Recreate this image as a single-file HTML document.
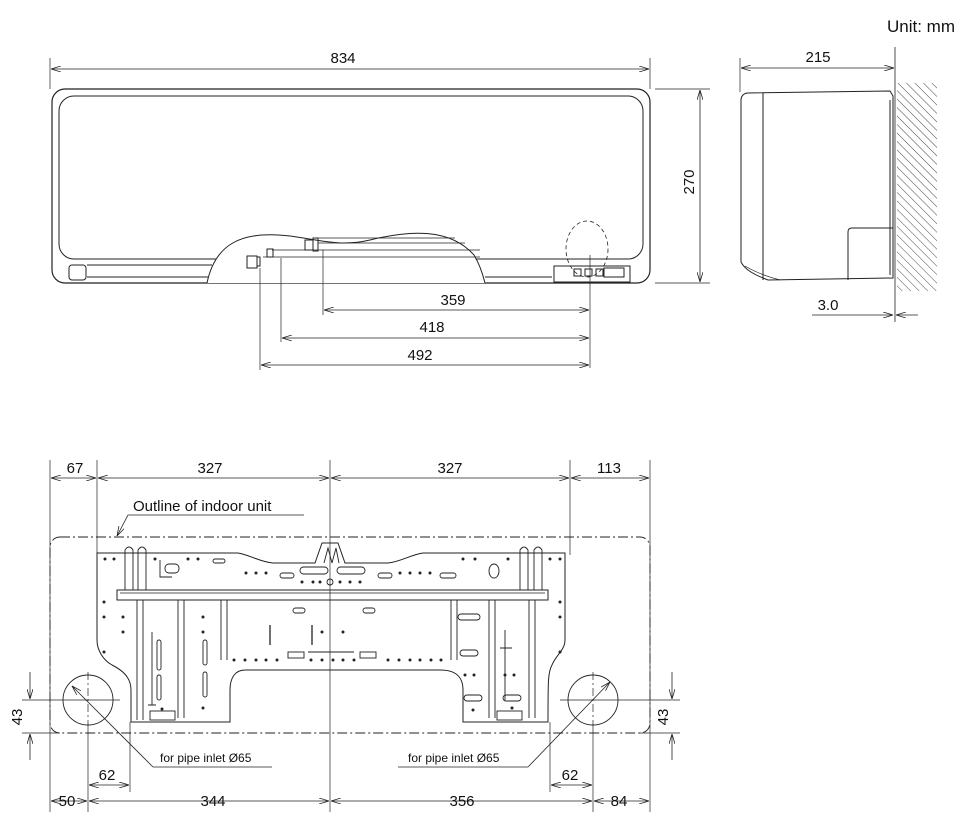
<!DOCTYPE html>
<html><head><meta charset="utf-8"><style>
html,body{margin:0;padding:0;background:#fff}
svg{display:block}
text{font-family:"Liberation Sans",sans-serif;fill:#111}
</style></head><body>
<svg width="962" height="830" viewBox="0 0 962 830" xmlns="http://www.w3.org/2000/svg">
<defs>
<marker id="a" markerWidth="10" markerHeight="6" refX="10" refY="3" orient="auto-start-reverse" markerUnits="userSpaceOnUse"><path d="M0,0 L10,3 L0,6" fill="none" stroke="#222" stroke-width="0.8"/></marker>
<pattern id="h" width="6" height="6" patternUnits="userSpaceOnUse" patternTransform="rotate(-45)"><line x1="0" y1="0" x2="0" y2="6" stroke="#333" stroke-width="0.9"/></pattern>
</defs>
<g stroke="#222" fill="none" stroke-width="1">
<text x="955" y="32" font-size="17" text-anchor="end" stroke="none">Unit: mm</text>

<!-- FRONT VIEW -->
<line x1="50" y1="58" x2="50" y2="89" stroke-width="0.7"/>
<line x1="650" y1="58" x2="650" y2="89" stroke-width="0.7"/>
<line x1="51" y1="69" x2="649" y2="69" marker-start="url(#a)" marker-end="url(#a)" stroke-width="0.8"/>
<text x="343" y="63" font-size="15" text-anchor="middle" stroke="none">834</text>
<rect x="52" y="89" width="598" height="194" rx="13" stroke-width="1.2"/>
<rect x="59" y="96" width="584" height="163" rx="15"/>
<rect x="69" y="265" width="17" height="15" rx="3"/>
<line x1="87" y1="265" x2="212" y2="265"/><line x1="87" y1="277" x2="212" y2="277"/>
<line x1="485" y1="277" x2="552" y2="277"/>
<path d="M207,283 C215,245 240,230 290,236 C320,240 340,247 370,240 C410,230 450,228 474,255 C480,265 483,275 485,283" fill="#fff"/>
<line x1="263" y1="257" x2="480" y2="257" stroke-width="0.8"/>
<line x1="272" y1="250" x2="480" y2="250" stroke-width="0.8"/>
<line x1="318" y1="243" x2="465" y2="243" stroke-width="0.8"/>
<line x1="318" y1="238" x2="455" y2="238" stroke-width="0.8"/>
<rect x="247" y="256" width="10" height="12"/><rect x="257" y="257" width="3" height="9"/>
<rect x="267" y="249" width="6" height="8"/>
<rect x="305" y="240" width="8" height="10"/><rect x="313" y="238" width="5" height="13"/>
<rect x="554" y="266" width="76" height="16"/>
<rect x="574" y="269" width="7" height="7"/><rect x="585" y="269" width="7" height="7"/><rect x="596" y="269" width="7" height="7"/><rect x="604" y="268" width="20" height="9"/>
<ellipse cx="587" cy="249" rx="21" ry="28" stroke-dasharray="4,3" stroke-width="0.8"/>
<line x1="655" y1="89" x2="710" y2="89" stroke-width="0.7"/>
<line x1="655" y1="283" x2="710" y2="283" stroke-width="0.7"/>
<line x1="700" y1="90" x2="700" y2="282" marker-start="url(#a)" marker-end="url(#a)" stroke-width="0.8"/>
<text x="0" y="0" font-size="15" text-anchor="middle" stroke="none" transform="translate(694,182) rotate(-90)">270</text>
<line x1="590" y1="255" x2="590" y2="368" stroke-width="0.7"/>
<line x1="323" y1="250" x2="323" y2="315" stroke-width="0.7"/>
<line x1="281" y1="258" x2="281" y2="342" stroke-width="0.7"/>
<line x1="260" y1="268" x2="260" y2="370" stroke-width="0.7"/>
<line x1="324" y1="310" x2="589" y2="310" marker-start="url(#a)" marker-end="url(#a)" stroke-width="0.8"/>
<line x1="282" y1="338" x2="589" y2="338" marker-start="url(#a)" marker-end="url(#a)" stroke-width="0.8"/>
<line x1="261" y1="365" x2="589" y2="365" marker-start="url(#a)" marker-end="url(#a)" stroke-width="0.8"/>
<text x="453" y="305" font-size="15" text-anchor="middle" stroke="none">359</text>
<text x="432" y="332" font-size="15" text-anchor="middle" stroke="none">418</text>
<text x="420" y="360" font-size="15" text-anchor="middle" stroke="none">492</text>

<!-- SIDE VIEW -->
<line x1="740" y1="58" x2="740" y2="92" stroke-width="0.7"/>
<line x1="895" y1="47" x2="895" y2="322" stroke-width="0.8"/>
<line x1="741" y1="68" x2="894" y2="68" marker-start="url(#a)" marker-end="url(#a)" stroke-width="0.8"/>
<text x="818" y="62" font-size="15" text-anchor="middle" stroke="none">215</text>
<path d="M748,93 L890,91 L893,96 L893,278 L768,280 C755,275 745,270 741,262 L741,100 C741,96 744,93 748,93Z"/>
<line x1="763" y1="93" x2="763" y2="280"/>
<path d="M848,280 L848,232 Q848,228 852,228 L893,228"/>
<line x1="890" y1="100" x2="890" y2="275"/>
<path d="M745,266 C755,272 765,276 780,280" stroke-width="0.7"/>
<rect x="897" y="83" width="40" height="208" fill="url(#h)" stroke="none"/>
<line x1="812" y1="315" x2="893" y2="315" marker-end="url(#a)" stroke-width="0.8"/>
<line x1="918" y1="315" x2="896" y2="315" marker-end="url(#a)" stroke-width="0.8"/>
<text x="828" y="310" font-size="15" text-anchor="middle" stroke="none">3.0</text>

<!-- BOTTOM VIEW -->
<g stroke-width="0.7">
<line x1="50" y1="460" x2="50" y2="812"/>
<line x1="97" y1="460" x2="97" y2="555"/>
<line x1="330" y1="460" x2="330" y2="812"/>
<line x1="570" y1="460" x2="570" y2="555"/>
<line x1="650" y1="460" x2="650" y2="812"/>
</g>
<g stroke-width="0.8">
<line x1="51" y1="478" x2="96" y2="478" marker-start="url(#a)" marker-end="url(#a)"/>
<line x1="98" y1="478" x2="329" y2="478" marker-start="url(#a)" marker-end="url(#a)"/>
<line x1="331" y1="478" x2="569" y2="478" marker-start="url(#a)" marker-end="url(#a)"/>
<line x1="571" y1="478" x2="649" y2="478" marker-start="url(#a)" marker-end="url(#a)"/>
</g>
<text x="75" y="473" font-size="15" text-anchor="middle" stroke="none">67</text>
<text x="210" y="473" font-size="15" text-anchor="middle" stroke="none">327</text>
<text x="450" y="473" font-size="15" text-anchor="middle" stroke="none">327</text>
<text x="609" y="473" font-size="15" text-anchor="middle" stroke="none">113</text>
<text x="133" y="511" font-size="15" stroke="none">Outline of indoor unit</text>
<line x1="128" y1="515" x2="304" y2="515" stroke-width="0.8"/>
<line x1="128" y1="515" x2="117" y2="536" stroke-width="0.8" marker-end="url(#a)"/>
<rect x="50" y="537" width="600" height="196" rx="10" stroke-dasharray="10,3,2,3" stroke-width="0.9"/>

<!-- plate -->
<path d="M97,553 L238,553 C250,555 260,562 273,563 L315,563 L322,543 L338,543 L345,563 L388,563 C400,562 410,555 423,553 L565,553 L565,640 C565,650 556,655 552,665 C548,672 548,680 548,722 L463,722 L463,690 C463,676 455,670 440,670 L245,670 C235,670 230,678 230,690 L230,722 L131,722 L131,690 C131,677 122,670 112,665 C103,660 97,650 97,640 Z" stroke-width="1"/>
<rect x="117" y="590" width="431" height="10"/>
<line x1="120" y1="593" x2="545" y2="593" stroke-width="0.7"/>
<g stroke-width="0.9">
<path d="M125,590 L125,550 Q129,544 133,550 L133,590"/><path d="M138,590 L138,550 Q142,544 146,550 L146,590"/>
<path d="M520,590 L520,550 Q524,544 528,550 L528,590"/><path d="M534,590 L534,550 Q538,544 542,550 L542,590"/>
<path d="M324,563 L328,548 L332,563 M332,563 L336,548 L339,563"/>
<rect x="300" y="567" width="28" height="7" rx="3.5"/><rect x="337" y="567" width="28" height="7" rx="3.5"/>
<circle cx="330" cy="582" r="3"/>
<path d="M137,600 L137,720 M143,600 L143,720 M178,600 L178,718 M184,600 L184,718 M221,600 L221,660 M227,600 L227,660"/>
<path d="M451,600 L451,660 M457,600 L457,660 M489,600 L489,718 M495,600 L495,718 M529,600 L529,718 M535,600 L535,718"/>
<path d="M152,632 L152,705 M156,705 L148,705"/>
<rect x="157" y="640" width="4" height="30" rx="2"/><rect x="157" y="675" width="4" height="25" rx="2"/>
<rect x="203" y="640" width="4" height="25" rx="2"/><rect x="203" y="672" width="4" height="25" rx="2"/>
<rect x="150" y="711" width="25" height="9"/><rect x="497" y="711" width="25" height="9"/>
<rect x="458" y="614" width="22" height="6" rx="3"/><rect x="460" y="650" width="18" height="6" rx="3"/><rect x="464" y="695" width="18" height="6" rx="3"/><rect x="503" y="695" width="18" height="6" rx="3"/>
<rect x="293" y="608" width="12" height="5" rx="2.5"/><rect x="363" y="608" width="12" height="5" rx="2.5"/>
<rect x="213" y="559" width="12" height="4" rx="2"/><rect x="280" y="573" width="14" height="5" rx="2.5"/>
<rect x="378" y="573" width="14" height="5" rx="2.5"/><rect x="440" y="573" width="16" height="5" rx="2.5"/>
<ellipse cx="494" cy="571" rx="5" ry="7"/>
<rect x="165" y="564" width="14" height="9" rx="4"/>
<path d="M160,560 L160,577 L172,577"/>
<line x1="270" y1="625" x2="270" y2="645" stroke-width="1.3"/><line x1="312" y1="625" x2="312" y2="645" stroke-width="1.3"/>
<rect x="288" y="652" width="16" height="6"/><rect x="360" y="652" width="16" height="6"/>
<line x1="308" y1="652" x2="354" y2="652"/>
<path d="M505,630 L505,700 M500,648 L512,648"/>
</g>
<g fill="#222" stroke="none">
<circle cx="105" cy="559" r="1.5"/><circle cx="114" cy="559" r="1.5"/><circle cx="155" cy="559" r="1.5"/><circle cx="188" cy="559" r="1.5"/><circle cx="198" cy="559" r="1.5"/>
<circle cx="246" cy="573" r="1.5"/><circle cx="256" cy="573" r="1.5"/><circle cx="266" cy="573" r="1.5"/>
<circle cx="302" cy="582" r="1.5"/><circle cx="313" cy="582" r="1.5"/><circle cx="320" cy="582" r="1.5"/><circle cx="340" cy="582" r="1.5"/><circle cx="350" cy="582" r="1.5"/><circle cx="360" cy="582" r="1.5"/>
<circle cx="400" cy="573" r="1.5"/><circle cx="410" cy="573" r="1.5"/><circle cx="420" cy="573" r="1.5"/><circle cx="430" cy="573" r="1.5"/>
<circle cx="463" cy="559" r="1.5"/><circle cx="475" cy="559" r="1.5"/><circle cx="508" cy="559" r="1.5"/><circle cx="550" cy="559" r="1.5"/><circle cx="560" cy="559" r="1.5"/>
<circle cx="104" cy="602" r="1.5"/><circle cx="104" cy="617" r="1.5"/><circle cx="123" cy="617" r="1.5"/><circle cx="123" cy="632" r="1.5"/><circle cx="104" cy="652" r="1.5"/>
<circle cx="560" cy="602" r="1.5"/><circle cx="560" cy="617" r="1.5"/><circle cx="560" cy="652" r="1.5"/>
<circle cx="203" cy="617" r="1.5"/><circle cx="203" cy="632" r="1.5"/><circle cx="322" cy="632" r="1.5"/><circle cx="343" cy="632" r="1.5"/>
<circle cx="234" cy="660" r="1.5"/><circle cx="245" cy="660" r="1.5"/><circle cx="256" cy="660" r="1.5"/><circle cx="266" cy="660" r="1.5"/><circle cx="277" cy="660" r="1.5"/>
<circle cx="311" cy="660" r="1.5"/><circle cx="322" cy="660" r="1.5"/><circle cx="333" cy="660" r="1.5"/><circle cx="343" cy="660" r="1.5"/><circle cx="354" cy="660" r="1.5"/>
<circle cx="388" cy="660" r="1.5"/><circle cx="399" cy="660" r="1.5"/><circle cx="410" cy="660" r="1.5"/><circle cx="420" cy="660" r="1.5"/><circle cx="431" cy="660" r="1.5"/><circle cx="441" cy="660" r="1.5"/>
<circle cx="465" cy="675" r="1.5"/><circle cx="474" cy="675" r="1.5"/><circle cx="505" cy="675" r="1.5"/><circle cx="514" cy="675" r="1.5"/>
<circle cx="162" cy="709" r="1.5"/><circle cx="203" cy="708" r="1.5"/><circle cx="473" cy="710" r="1.5"/><circle cx="512" cy="708" r="1.5"/>
</g>

<!-- circles -->
<circle cx="88" cy="700" r="25" stroke-width="0.9"/>
<circle cx="593" cy="700" r="25" stroke-width="0.9"/>
<g stroke-width="0.7" stroke-dasharray="8,3,2,3">
<line x1="88" y1="672" x2="88" y2="730"/><line x1="593" y1="672" x2="593" y2="730"/>
</g>
<g stroke-width="0.7">
<line x1="22" y1="700" x2="120" y2="700"/><line x1="22" y1="733" x2="60" y2="733"/>
<line x1="560" y1="700" x2="680" y2="700"/><line x1="640" y1="733" x2="680" y2="733"/>
<line x1="88" y1="728" x2="88" y2="812"/><line x1="593" y1="728" x2="593" y2="812"/>
<line x1="130" y1="722" x2="130" y2="792"/><line x1="550" y1="722" x2="550" y2="792"/>
</g>
<line x1="30" y1="672" x2="30" y2="699" marker-end="url(#a)" stroke-width="0.8"/>
<line x1="30" y1="760" x2="30" y2="734" marker-end="url(#a)" stroke-width="0.8"/>
<line x1="672" y1="672" x2="672" y2="699" marker-end="url(#a)" stroke-width="0.8"/>
<line x1="672" y1="760" x2="672" y2="734" marker-end="url(#a)" stroke-width="0.8"/>
<text font-size="15" text-anchor="middle" stroke="none" transform="translate(22,717) rotate(-90)">43</text>
<text font-size="15" text-anchor="middle" stroke="none" transform="translate(668,717) rotate(-90)">43</text>
<text x="160" y="762" font-size="12" stroke="none">for pipe inlet Ø65</text>
<line x1="153" y1="767" x2="272" y2="767" stroke-width="0.8"/>
<line x1="153" y1="767" x2="72" y2="686" stroke-width="0.8" marker-end="url(#a)"/>
<text x="408" y="762" font-size="12" stroke="none">for pipe inlet Ø65</text>
<line x1="398" y1="767" x2="528" y2="767" stroke-width="0.8"/>
<line x1="528" y1="767" x2="610" y2="682" stroke-width="0.8" marker-end="url(#a)"/>
<line x1="89" y1="785" x2="129" y2="785" marker-start="url(#a)" marker-end="url(#a)" stroke-width="0.8"/>
<line x1="551" y1="785" x2="592" y2="785" marker-start="url(#a)" marker-end="url(#a)" stroke-width="0.8"/>
<text x="107" y="780" font-size="15" text-anchor="middle" stroke="none">62</text>
<text x="570" y="780" font-size="15" text-anchor="middle" stroke="none">62</text>
<g stroke-width="0.8">
<line x1="51" y1="801" x2="87" y2="801" marker-start="url(#a)" marker-end="url(#a)"/>
<line x1="89" y1="801" x2="329" y2="801" marker-start="url(#a)" marker-end="url(#a)"/>
<line x1="331" y1="801" x2="592" y2="801" marker-start="url(#a)" marker-end="url(#a)"/>
<line x1="594" y1="801" x2="649" y2="801" marker-start="url(#a)" marker-end="url(#a)"/>
</g>
<text x="67" y="806" font-size="15" text-anchor="middle" stroke="none">50</text>
<text x="213" y="806" font-size="15" text-anchor="middle" stroke="none">344</text>
<text x="462" y="806" font-size="15" text-anchor="middle" stroke="none">356</text>
<text x="619" y="806" font-size="15" text-anchor="middle" stroke="none">84</text>
</g>
</svg>
</body></html>
